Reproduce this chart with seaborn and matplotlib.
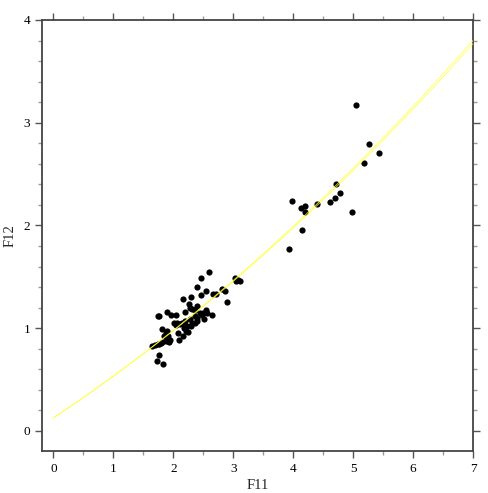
import matplotlib
matplotlib.use("Agg")
import matplotlib.pyplot as plt
from matplotlib.ticker import MultipleLocator
import seaborn as sns
import pandas as pd

# scatter values
f11 = [5.04, 5.26, 5.43, 5.18, 4.71, 4.78, 4.70, 4.61, 4.39, 3.98, 4.19, 4.13,
       4.20, 4.98, 4.14, 3.93,
       3.03, 3.05, 3.08, 3.11, 2.60, 2.46, 2.39, 2.55, 2.81, 2.86, 2.67, 2.72,
       2.46, 2.30, 2.16, 2.90, 2.27, 2.40, 2.28, 2.32, 2.36, 2.54, 2.57, 2.64,
       2.50, 2.48, 2.44, 2.20, 1.89, 1.75, 1.77, 1.97, 2.04, 2.36, 2.39, 2.51,
       2.28, 2.19, 2.15, 2.11, 2.01, 2.04, 2.06, 2.32, 2.36, 2.29, 2.23, 2.39,
       2.18, 2.21, 2.25, 1.81, 1.90, 1.88, 2.08, 2.16, 1.85, 1.91, 1.95, 1.88,
       1.93, 1.82, 1.79, 1.77, 1.74, 1.69, 2.10, 1.65, 1.77, 1.73, 1.825]
f12 = [3.17, 2.79, 2.71, 2.61, 2.40, 2.32, 2.27, 2.23, 2.21, 2.24, 2.19, 2.17,
       2.13, 2.13, 1.96, 1.77,
       1.49, 1.46, 1.47, 1.46, 1.55, 1.49, 1.40, 1.36, 1.38, 1.36, 1.33, 1.33,
       1.32, 1.30, 1.28, 1.26, 1.24, 1.22, 1.20, 1.19, 1.18, 1.18, 1.15, 1.13,
       1.15, 1.13, 1.15, 1.16, 1.155, 1.12, 1.12, 1.13, 1.13, 1.12, 1.10, 1.09,
       1.09, 1.07, 1.05, 1.04, 1.05, 1.03, 1.05, 1.05, 1.05, 1.02, 1.02, 1.07,
       1.005, 0.97, 0.96, 0.99, 0.97, 0.955, 0.95, 0.925, 0.92, 0.92, 0.89, 0.875,
       0.865, 0.87, 0.86, 0.845, 0.845, 0.84, 0.885, 0.83, 0.735, 0.68, 0.655]

# the two thin yellow curves (nearly on top of each other)
curve_x = [0, 0.5, 1, 1.5, 2, 2.5, 3, 3.5, 4, 4.5, 5, 5.5, 6, 6.5, 7]
curve_upper = [0.128, 0.326, 0.535, 0.753, 0.980, 1.218, 1.465, 1.723,
               1.990, 2.268, 2.555, 2.852, 3.158, 3.475, 3.800]
curve_lower = [0.126, 0.324, 0.531, 0.749, 0.974, 1.210, 1.455, 1.711,
               1.976, 2.250, 2.535, 2.828, 3.132, 3.445, 3.770]

pts = pd.DataFrame({"F11": f11, "F12": f12})
curves = pd.DataFrame({"x": curve_x + curve_x,
                       "y": curve_upper + curve_lower,
                       "band": ["upper"] * len(curve_x) + ["lower"] * len(curve_x)})

sns.set_style("ticks")
plt.rcParams["font.family"] = ["Liberation Serif", "DejaVu Serif"]

fig = plt.figure(figsize=(4.88, 4.93), dpi=100)
ax = fig.add_axes([42 / 488, 1 - 451 / 493, 431 / 488, 431 / 493])

sns.scatterplot(data=pts, x="F11", y="F12", ax=ax, color="black",
                s=20, linewidth=0, zorder=2)
sns.lineplot(data=curves, x="x", y="y", units="band", estimator=None, ax=ax,
             color="#ffff33", linewidth=0.5, zorder=3, legend=False)

ax.set_xlim(-0.19, 7)
ax.set_ylim(-0.195, 4)
ax.xaxis.set_major_locator(MultipleLocator(1))
ax.xaxis.set_minor_locator(MultipleLocator(0.5))
ax.yaxis.set_major_locator(MultipleLocator(1))
ax.yaxis.set_minor_locator(MultipleLocator(0.2))

for s in ax.spines.values():
    s.set_color("#444444")
    s.set_linewidth(1.3)
ax.tick_params(which="both", direction="out", top=True, right=True,
               colors="#555555", labelcolor="black", labelsize=9.5)
ax.tick_params(which="major", length=5, width=1)
ax.tick_params(which="minor", length=3, width=1, colors="#999999")

ax.set_xlabel("F11", fontsize=10.5, labelpad=3)
ax.set_ylabel("F12", fontsize=10.5, labelpad=5)

fig.savefig("out.png", dpi=100)
